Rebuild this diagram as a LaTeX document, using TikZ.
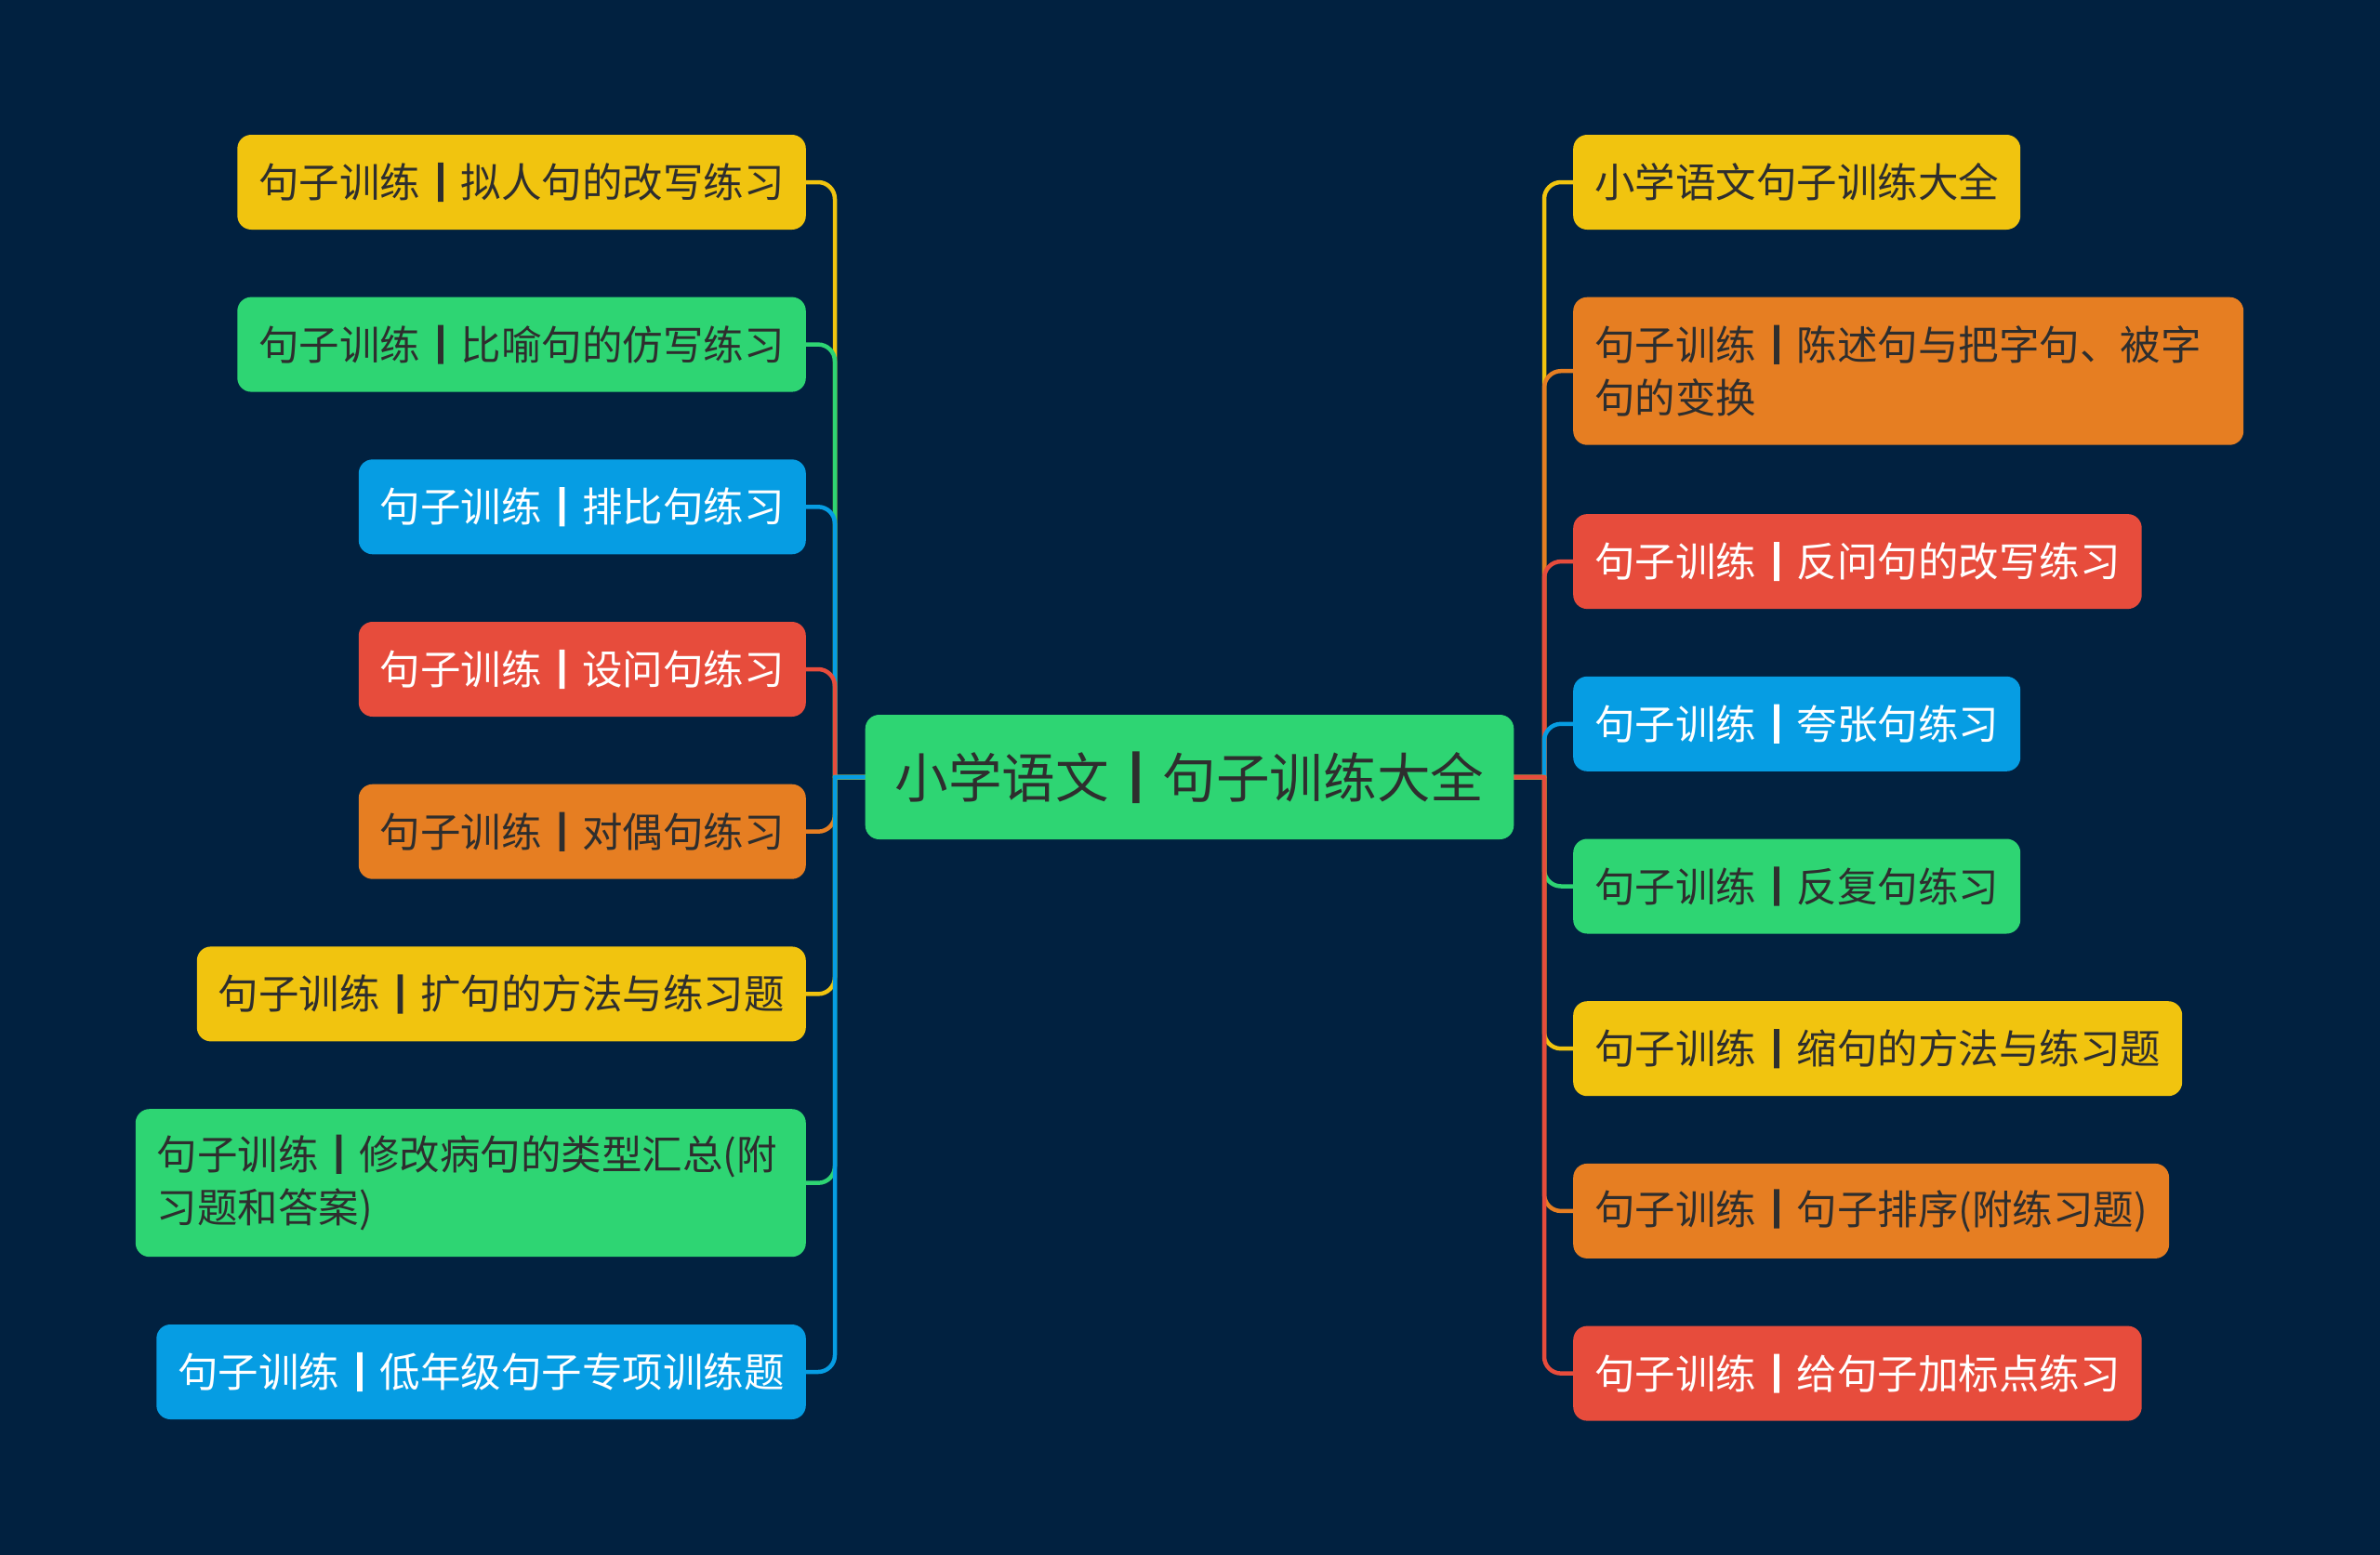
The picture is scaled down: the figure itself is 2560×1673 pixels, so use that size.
\documentclass[tikz,border=0pt]{standalone}
\usepackage{fontspec}
\setmainfont{Noto Sans CJK SC}
\newfontfamily\barfont{Noto Sans CJK SC}[FakeBold=5]
\newcommand\sepbar{{\barfont 丨}}
\usetikzlibrary{backgrounds}
\definecolor{bgnavy}{HTML}{012140}
\definecolor{cyel}{HTML}{F1C40F}
\definecolor{cgrn}{HTML}{2ED573}
\definecolor{cblu}{HTML}{069DE3}
\definecolor{cred}{HTML}{E74C3C}
\definecolor{corg}{HTML}{E67E22}
\definecolor{dtext}{HTML}{2E2E2E}
\begin{document}
\begin{tikzpicture}[x=1pt,y=-1pt,
  box/.style={rounded corners=15pt, minimum height=102pt, inner xsep=23pt, inner ysep=0pt,
    font=\fontsize{43.5}{57}\selectfont, align=left},
  byel/.style={box, fill=cyel, text=dtext},
  bgrn/.style={box, fill=cgrn, text=dtext},
  bblu/.style={box, fill=cblu, text=white},
  bred/.style={box, fill=cred, text=white},
  borg/.style={box, fill=corg, text=dtext},
  twoline/.style={minimum height=159pt, text width=675pt},
  conn/.style={line width=4.5pt, rounded corners=18pt, line cap=round}]
\useasboundingbox (0,0) rectangle (2560,1673);

% center
\node[box, fill=cgrn, text=dtext, font=\fontsize{57.6}{66}\selectfont, minimum width=697pt, minimum height=134pt, inner xsep=32pt] (c) at (1279.5,836) {小学语文\sepbar 句子训练大全};

% left
\node[byel, anchor=east] (l1) at (867,196) {句子训练\sepbar 拟人句的改写练习};
\node[bgrn, anchor=east] (l2) at (867,370.6) {句子训练\sepbar 比喻句的仿写练习};
\node[bblu, anchor=east] (l3) at (867,545.3) {句子训练\sepbar 排比句练习};
\node[bred, anchor=east] (l4) at (867,720) {句子训练\sepbar 设问句练习};
\node[borg, anchor=east] (l5) at (867,894.7) {句子训练\sepbar 对偶句练习};
\node[byel, anchor=east] (l6) at (867,1069.4) {句子训练\sepbar 扩句的方法与练习题};
\node[bgrn, twoline, anchor=east] (l7) at (867,1272.7) {句子训练\sepbar 修改病句的类型汇总(附\\习题和答案)};
\node[bblu, anchor=east] (l8) at (867,1476) {句子训练\sepbar 低年级句子专项训练题};

% right
\node[byel, anchor=west] (r1) at (1692,196) {小学语文句子训练大全};
\node[borg, twoline, anchor=west] (r2) at (1692,399.2) {句子训练\sepbar 陈述句与把字句、被字\\句的变换};
\node[bred, anchor=west] (r3) at (1692,604.1) {句子训练\sepbar 反问句的改写练习};
\node[bblu, anchor=west] (r4) at (1692,778.8) {句子训练\sepbar 夸张句练习};
\node[bgrn, anchor=west] (r5) at (1692,953.5) {句子训练\sepbar 反复句练习};
\node[byel, anchor=west] (r6) at (1692,1128.2) {句子训练\sepbar 缩句的方法与练习题};
\node[borg, anchor=west] (r7) at (1692,1302.9) {句子训练\sepbar 句子排序(附练习题)};
\node[bred, anchor=west] (r8) at (1692,1477.6) {句子训练\sepbar 给句子加标点练习};

\coordinate (tl) at (898,836);
\coordinate (tr) at (1661,836);

\begin{scope}[on background layer]
\fill[bgnavy] (0,0) rectangle (2560,1673);
\draw[conn, draw=cyel] (c.west) -- (tl) (tl) |- (l1.east);
\draw[conn, draw=cgrn] (c.west) -- (tl) (tl) |- (l2.east);
\draw[conn, draw=cblu] (c.west) -- (tl) (tl) |- (l3.east);
\draw[conn, draw=cred] (c.west) -- (tl) (tl) |- (l4.east);
\draw[conn, draw=corg] (c.west) -- (tl) (tl) |- (l5.east);
\draw[conn, draw=cyel] (c.west) -- (tl) (tl) |- (l6.east);
\draw[conn, draw=cgrn] (c.west) -- (tl) (tl) |- (l7.east);
\draw[conn, draw=cblu] (c.west) -- (tl) (tl) |- (l8.east);

\draw[conn, draw=cyel] (c.east) -- (tr) (tr) |- (r1.west);
\draw[conn, draw=corg] (c.east) -- (tr) (tr) |- (r2.west);
\draw[conn, draw=cred] (c.east) -- (tr) (tr) |- (r3.west);
\draw[conn, draw=cblu] (c.east) -- (tr) (tr) |- (r4.west);
\draw[conn, draw=cgrn] (c.east) -- (tr) (tr) |- (r5.west);
\draw[conn, draw=cyel] (c.east) -- (tr) (tr) |- (r6.west);
\draw[conn, draw=corg] (c.east) -- (tr) (tr) |- (r7.west);
\draw[conn, draw=cred] (c.east) -- (tr) (tr) |- (r8.west);
\end{scope}
\end{tikzpicture}
\end{document}
